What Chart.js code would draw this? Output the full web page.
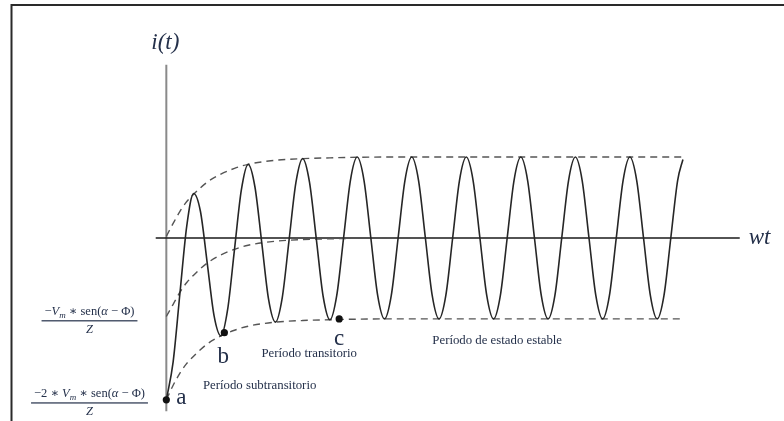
<!DOCTYPE html>
<html><head><meta charset="utf-8">
<script src="https://cdn.jsdelivr.net/npm/chart.js@4/dist/chart.umd.min.js"></script>
<style>html,body{margin:0;padding:0;background:#fff;overflow:hidden}canvas{display:block}</style>
</head><body><canvas id="c" width="784" height="421"></canvas>
<script>
// ---- data (wt in degrees, i normalised to steady-state amplitude) ----
const wtSine = [0,45,90,135,180,225,270,315,360,405,450,495,540,585,630,675,720,765,810,855,900,945,990,1035,
  1080,1125,1170,1215,1260,1305,1350,1395,1440,1485,1530,1575,1620,1665,1710,1755,1800,1845,1890,1935,1980,2025,
  2070,2115,2160,2205,2250,2295,2340,2385,2430,2475,2520,2565,2610,2655,2700,2745,2790,2835,2880,2925,2970,3015,
  3060,3105,3150,3195,3240,3285,3330,3375,3410];
const iSine = [-2.0,-1.53,-0.68,0.15,0.55,0.33,-0.31,-0.96,-1.21,-0.88,-0.14,0.59,0.91,0.63,-0.06,-0.76,-1.04,-0.74,-0.03,0.68,0.98,0.69,-0.01,-0.72,
  -1.01,-0.71,0,0.71,1,0.71,0,-0.71,-1,-0.71,0,0.71,1,0.71,0,-0.71,-1,-0.71,0,0.71,1,0.71,
  0,-0.71,-1,-0.71,0,0.71,1,0.71,0,-0.71,-1,-0.71,0,0.71,1,0.71,0,-0.71,-1,-0.71,0,0.71,
  1,0.71,0,-0.71,-1,-0.71,0,0.71,0.97];
const wtEnv = [0,45,90,135,180,270,360,450,540,720,900,1080,1440,3410];
const envUpper = [0.02,0.18,0.33,0.45,0.54,0.69,0.79,0.86,0.91,0.96,0.98,0.99,1.0,1.0];
const envLower = [-2.0,-1.82,-1.67,-1.55,-1.46,-1.31,-1.21,-1.14,-1.09,-1.04,-1.02,-1.01,-1.0,-1.0];
const wtDc = [0,45,90,135,180,270,360,450,540,720,900,1080,1440,1800];
const dcOffset = [-0.97,-0.82,-0.67,-0.55,-0.46,-0.31,-0.21,-0.14,-0.09,-0.04,-0.02,-0.01,0,0];
const markerWt = [0,383,1141];
const markerI = [-2.0,-1.17,-1.0];
const markerNames = ['a','b','c'];
const hAxisWt = [-70,3785];
const vAxisI = [2.14,-2.14];

const pts = (xs, ys) => xs.map((x, k) => ({x: x, y: ys[k]}));

const serif = '"Liberation Serif", "DejaVu Serif", serif';
const txtColor = '#24304a';

const decor = {
  id: 'decor',
  beforeDraw(chart) {
    const c = chart.ctx;
    c.save();
    c.fillStyle = '#fff';
    c.fillRect(0, 0, chart.width, chart.height);
    c.strokeStyle = '#2a2a2a';
    c.lineWidth = 2;
    c.beginPath();
    c.moveTo(11.5, chart.height);
    c.lineTo(11.5, 5);
    c.lineTo(chart.width, 5);
    c.stroke();
    c.restore();
  },
  afterDatasetsDraw(chart) {
    const c = chart.ctx;
    const xs = chart.scales.x, ys = chart.scales.y;
    const X = v => xs.getPixelForValue(v), Y = v => ys.getPixelForValue(v);
    c.save();
    c.fillStyle = txtColor;
    // axis titles
    c.font = 'italic 23px ' + serif;
    c.textAlign = 'center';
    c.textBaseline = 'middle';
    c.fillText('i(t)', X(0) - 1, 43);
    c.textAlign = 'left';
    c.textBaseline = 'alphabetic';
    c.fillText('wt', X(hAxisWt[1]) + 9, Y(0) + 6);
    // point names
    c.font = '23px ' + serif;
    c.textAlign = 'center';
    const off = [[15, 4], [-1, 30], [0, 26]];
    markerNames.forEach((n, k) => {
      c.fillText(n, X(markerWt[k]) + off[k][0], Y(markerI[k]) + off[k][1]);
    });
    // period labels
    c.font = '12.8px ' + serif;
    c.fillText('Período transitorio', X(943), Y(-1.467));
    c.fillText('Período subtransitorio', X(616), Y(-1.867));
    c.fillText('Período de estado estable', X(2184), Y(-1.315));
    // fractions
    const S = 12.5;
    const R = S + 'px ' + serif, I = 'italic ' + S + 'px ' + serif, SUB = 'italic ' + (S * 0.72) + 'px ' + serif;
    function rich(parts, cx, base) {
      let w = 0;
      parts.forEach(p => { c.font = p[1]; p.w = c.measureText(p[0]).width; w += p.w; });
      let x = cx - w / 2;
      c.textAlign = 'left';
      parts.forEach(p => { c.font = p[1]; c.fillText(p[0], x, base + (p[2] || 0)); x += p.w; });
      return w;
    }
    const n1 = [['−', R], ['V', I], ['m', SUB, 3], [' ∗ sen(', R], ['α', I], [' − Φ)', R]];
    const n2 = [['−2 ∗ ', R], ['V', I], ['m', SUB, 3], [' ∗ sen(', R], ['α', I], [' − Φ)', R]];
    const fr = [[n1, 89.5, Y(-1) + 1.3], [n2, 89.5, Y(-2) + 2.5]];
    fr.forEach(f => {
      const w = rich(f[0], f[1], f[2] - 5);
      c.fillRect(f[1] - w / 2 - 3, f[2], w + 6, 1.2);
      c.font = I;
      c.textAlign = 'center';
      c.fillText('Z', f[1], f[2] + 13);
    });
    c.restore();
  }
};

new Chart(document.getElementById('c'), {
  type: 'line',
  data: {
    datasets: [
      {data: pts(markerWt, markerI), showLine: false, pointRadius: 3.6, pointBackgroundColor: '#111', pointBorderWidth: 0, order: 0},
      {data: pts(wtSine, iSine), borderColor: '#262626', borderWidth: 1.6, pointRadius: 0, cubicInterpolationMode: 'monotone', order: 1},
      {data: pts(wtEnv, envUpper), borderColor: '#555', borderWidth: 1.4, borderDash: [7, 5], pointRadius: 0, cubicInterpolationMode: 'monotone', order: 2},
      {data: pts(wtEnv, envLower), borderColor: '#555', borderWidth: 1.4, borderDash: [7, 5], pointRadius: 0, cubicInterpolationMode: 'monotone', order: 3},
      {data: pts(wtDc, dcOffset), borderColor: '#555', borderWidth: 1.4, borderDash: [7, 5], pointRadius: 0, cubicInterpolationMode: 'monotone', order: 4},
      {data: pts(hAxisWt, [0, 0]), borderColor: '#1a1a1a', borderWidth: 1.6, pointRadius: 0, order: 5},
      {data: pts([0, 0], vAxisI), borderColor: '#8a8a8a', borderWidth: 2, pointRadius: 0, order: 6}
    ]
  },
  options: {
    responsive: false,
    animation: false,
    devicePixelRatio: 1,
    layout: {padding: 0},
    plugins: {legend: {display: false}, tooltip: {enabled: false}},
    events: [],
    scales: {
      x: {type: 'linear', display: false, min: -1071.5, max: 4050.8},
      y: {type: 'linear', display: false, min: -2.212, max: 2.891}
    }
  },
  plugins: [decor]
});
</script></body></html>
